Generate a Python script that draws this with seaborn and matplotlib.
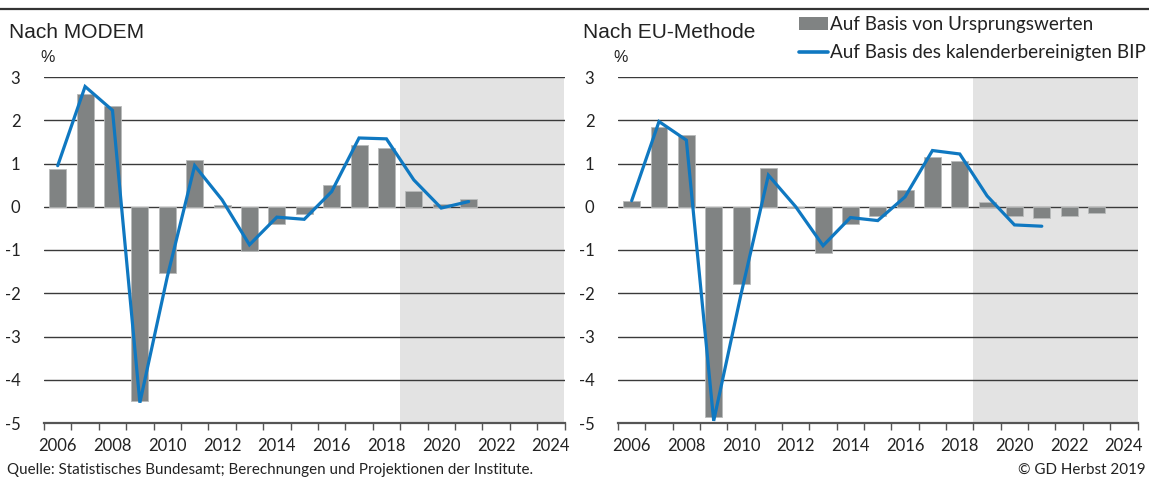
import matplotlib
matplotlib.use("Agg")
import matplotlib.pyplot as plt
import seaborn as sns
import pandas as pd
import numpy as np
from matplotlib.patches import Patch
from matplotlib.lines import Line2D

# Output gap estimates, % of potential output
years = list(range(2006, 2025))

modem_raw = [0.88, 2.61, 2.34, -4.49, -1.54, 1.09, 0.05, -1.03, -0.41, -0.17,
             0.51, 1.43, 1.36, 0.37, 0.07, 0.19, None, None, None]
modem_adj = [0.95, 2.78, 2.23, -4.53, -1.62, 0.95, 0.16, -0.88, -0.24, -0.29,
             0.35, 1.59, 1.57, 0.62, -0.03, 0.12, None, None, None]

eu_raw = [0.14, 1.84, 1.67, -4.86, -1.79, 0.89, -0.02, -1.06, -0.40, -0.22,
          0.39, 1.16, 1.06, 0.10, -0.22, -0.25, -0.21, -0.14, None]
eu_adj = [0.14, 1.97, 1.54, -4.95, -2.02, 0.73, 0.00, -0.90, -0.25, -0.32,
          0.23, 1.30, 1.22, 0.25, -0.42, -0.45, None, None, None]

panel_titles = ["Nach MODEM", "Nach EU-Methode"]
legend_labels = ["Auf Basis von Ursprungswerten",
                 "Auf Basis des kalenderbereinigten BIP"]
year_labels = [str(y) for y in range(2006, 2025, 2)]
y_ticks = list(range(-5, 4))
forecast_start = 2019

BAR_COLOR = "#808383"
LINE_COLOR = "#0f78c1"
SHADE_COLOR = "#e3e3e3"
GRID_COLOR = "#3a3a3a"

sns.set_style("white")
plt.rcParams["font.family"] = ["Lato", "DejaVu Sans"]

fig = plt.figure(figsize=(11.49, 4.79), dpi=100)
W, H = 1149, 479

def frac_box(x0, x1, ytop, ybot):
    return [x0 / W, 1 - ybot / H, (x1 - x0) / W, (ybot - ytop) / H]

axes = [fig.add_axes(frac_box(44, 564.5, 77, 423)),
        fig.add_axes(frac_box(618, 1137.5, 77, 423))]

panels = [(modem_raw, modem_adj), (eu_raw, eu_adj)]

for ax, (raw, adj) in zip(axes, panels):
    df = pd.DataFrame({"Jahr": years, "raw": raw, "adj": adj})
    bars = df.dropna(subset=["raw"])
    line = df.dropna(subset=["adj"])

    # forecast period shading
    ax.axvspan(forecast_start - 0.5, years[-1] + 0.5, color=SHADE_COLOR,
               zorder=0, lw=0)
    for v in y_ticks[1:]:
        ax.axhline(v, color=GRID_COLOR, lw=1.0, zorder=1)

    sns.barplot(data=bars, x="Jahr", y="raw", native_scale=True, width=0.62,
                color=BAR_COLOR, saturation=1, edgecolor="#b9bbbb",
                linewidth=0.6, ax=ax, zorder=2)
    sns.lineplot(data=line, x="Jahr", y="adj", color=LINE_COLOR, lw=2.3,
                 ax=ax, zorder=3, solid_joinstyle="miter")

    ax.set_xlim(years[0] - 0.5, years[-1] + 0.5)
    ax.set_ylim(-5, 3)
    ax.set_xlabel("")
    ax.set_ylabel("")
    for s in ["top", "left", "right"]:
        ax.spines[s].set_visible(False)
    ax.spines["bottom"].set_color("#555555")
    ax.spines["bottom"].set_linewidth(1.6)

    ax.set_xticks(np.arange(years[0] - 0.5, years[-1] + 1, 1.0))
    ax.set_xticklabels([])
    ax.tick_params(axis="x", which="major", bottom=True, length=5, width=1,
                   color="#555555", direction="out")
    ax.set_xticks([int(t) for t in year_labels], minor=True)
    ax.set_xticklabels(year_labels, minor=True)
    ax.tick_params(axis="x", which="minor", bottom=True, length=0, pad=11,
                   labelsize=12, labelcolor="#222222")

    ax.set_yticks(y_ticks)
    ax.set_yticklabels([str(v) for v in y_ticks])
    ax.tick_params(axis="y", length=0, pad=17, labelsize=12,
                   labelcolor="#222222")
    for lbl in ax.get_yticklabels():
        lbl.set_horizontalalignment("right")
    ax.set_facecolor("none")

# panel headings and unit labels
fig.text(9 / W, 1 - 33 / H, panel_titles[0], fontsize=15,
         family="Liberation Sans", color="#222222", va="center")
fig.text(583 / W, 1 - 33 / H, panel_titles[1], fontsize=15,
         family="Liberation Sans", color="#222222", va="center")
fig.text(40 / W, 1 - 58 / H, "%", fontsize=11.5, family="Liberation Sans",
         color="#222222", va="center")
fig.text(613 / W, 1 - 58 / H, "%", fontsize=11.5, family="Liberation Sans",
         color="#222222", va="center")

# rule across the top
fig.add_artist(Line2D([0, 1], [1 - 9 / H, 1 - 9 / H], color="#333333",
                      lw=1.6, transform=fig.transFigure))

handles = [Patch(facecolor=BAR_COLOR, edgecolor="none"),
           Line2D([0], [0], color=LINE_COLOR, lw=2.6)]
fig.legend(handles, legend_labels, loc="upper left",
           bbox_to_anchor=(795 / W, 1 - 12 / H), frameon=False, fontsize=13.6,
           handlelength=1.55, handletextpad=0.1, labelspacing=0.62,
           borderaxespad=0, borderpad=0.2, labelcolor="#222222")

fig.text(7 / W, 1 - 470 / H, "Quelle: Statistisches Bundesamt; Berechnungen "
         "und Projektionen der Institute.", fontsize=10.9, color="#222222",
         va="center")
fig.text(1146 / W, 1 - 470 / H, "© GD Herbst 2019", fontsize=10.9,
         color="#222222", va="center", ha="right")

fig.savefig("out.png", dpi=100)
